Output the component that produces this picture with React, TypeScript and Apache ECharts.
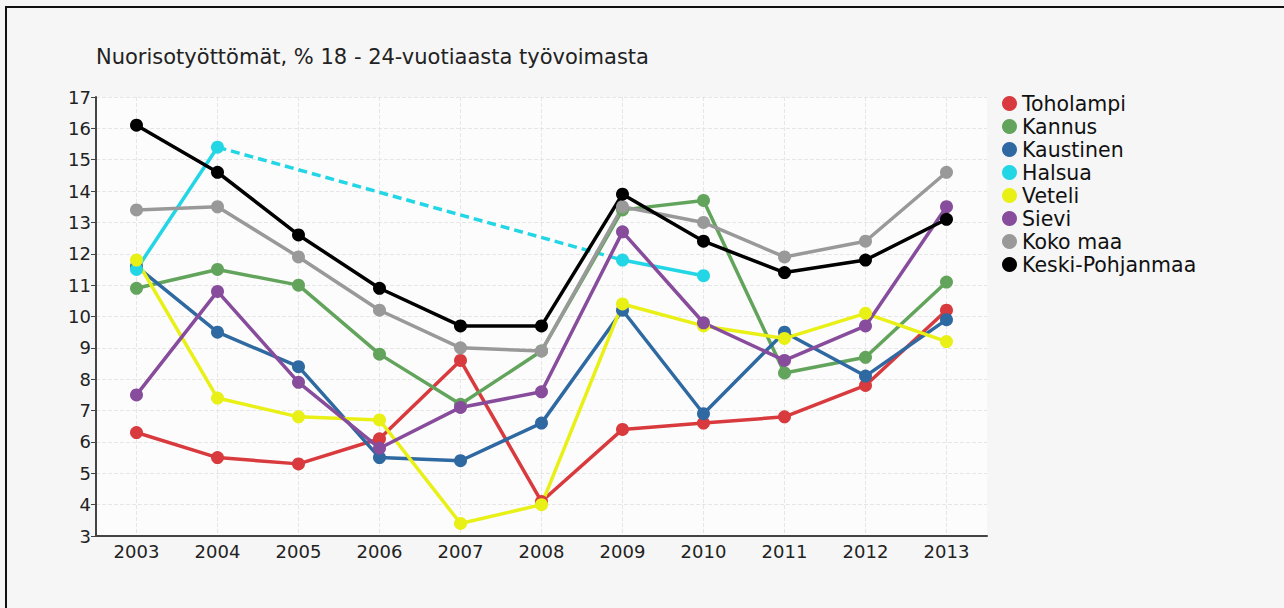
import React, { useEffect, useRef } from "react";
import * as echarts from "echarts";

const years = ["2003", "2004", "2005", "2006", "2007", "2008", "2009", "2010", "2011", "2012", "2013"];

const toholampi = [6.3, 5.5, 5.3, 6.1, 8.6, 4.1, 6.4, 6.6, 6.8, 7.8, 10.2];
const kannus = [10.9, 11.5, 11.0, 8.8, 7.2, 8.9, 13.4, 13.7, 8.2, 8.7, 11.1];
const kaustinen = [11.6, 9.5, 8.4, 5.5, 5.4, 6.6, 10.2, 6.9, 9.5, 8.1, 9.9];
const halsua = [11.5, 15.4, null, null, null, null, 11.8, 11.3, null, null, null];
const halsuaGap = [null, 15.4, null, null, null, null, 11.8, null, null, null, null];
const veteli = [11.8, 7.4, 6.8, 6.7, 3.4, 4.0, 10.4, 9.7, 9.3, 10.1, 9.2];
const sievi = [7.5, 10.8, 7.9, 5.8, 7.1, 7.6, 12.7, 9.8, 8.6, 9.7, 13.5];
const kokoMaa = [13.4, 13.5, 11.9, 10.2, 9.0, 8.9, 13.5, 13.0, 11.9, 12.4, 14.6];
const keskiPohjanmaa = [16.1, 14.6, 12.6, 10.9, 9.7, 9.7, 13.9, 12.4, 11.4, 11.8, 13.1];

const seriesDefs = [
  { name: "Toholampi", data: toholampi, color: "#d83a3e" },
  { name: "Kannus", data: kannus, color: "#62a45c" },
  { name: "Kaustinen", data: kaustinen, color: "#2f69a1" },
  { name: "Halsua", data: halsua, color: "#22d6e6" },
  { name: "Veteli", data: veteli, color: "#e8f016" },
  { name: "Sievi", data: sievi, color: "#874c9b" },
  { name: "Koko maa", data: kokoMaa, color: "#999999" },
  { name: "Keski-Pohjanmaa", data: keskiPohjanmaa, color: "#000000" },
];

const FONT = "DejaVu Sans";

export default function App() {
  const ref = useRef<HTMLDivElement>(null);
  useEffect(() => {
    if (!ref.current) return;
    const chart = echarts.init(ref.current, null, { renderer: "svg" });
    const series: any[] = [
      {
        name: "Halsua-gap",
        type: "line",
        data: halsuaGap,
        connectNulls: true,
        showSymbol: false,
        symbol: "none",
        lineStyle: { color: "#22d6e6", width: 3.5, type: [9, 5] },
        itemStyle: { color: "#22d6e6" },
        z: 1,
      },
    ];
    seriesDefs.forEach((s) => {
      series.push({
        name: s.name,
        type: "line",
        data: s.data,
        connectNulls: false,
        symbol: "circle",
        symbolSize: 13,
        showSymbol: true,
        lineStyle: { color: s.color, width: 3.5 },
        itemStyle: { color: s.color },
        z: 2,
      });
    });
    chart.setOption({
      animation: false,
      backgroundColor: "transparent",
      title: {
        text: "Nuorisotyöttömät, % 18 - 24-vuotiaasta työvoimasta",
        left: 91,
        top: 41,
        textStyle: { fontFamily: FONT, fontSize: 21, fontWeight: "normal", color: "#222" },
      },
      legend: {
        orient: "vertical",
        left: 997,
        top: 88,
        icon: "circle",
        itemWidth: 15,
        itemHeight: 15,
        itemGap: 2,
        data: seriesDefs.map((s) => s.name),
        textStyle: { fontFamily: FONT, fontSize: 20.5, color: "#111", lineHeight: 20 },
      },
      grid: {
        left: 96,
        right: 297,
        top: 97,
        bottom: 72,
        show: true,
        backgroundColor: "#fcfcfc",
        borderWidth: 0,
      },
      xAxis: {
        type: "category",
        data: years,
        boundaryGap: true,
        axisLine: { lineStyle: { color: "#444", width: 2 } },
        axisTick: { alignWithLabel: true, length: 5, lineStyle: { color: "#444" } },
        axisLabel: { fontFamily: FONT, fontSize: 18, color: "#222", margin: 6 },
        splitLine: { show: true, alignWithLabel: true, lineStyle: { color: "#e6e6e6", type: "dashed" } },
      } as any,
      yAxis: {
        type: "value",
        min: 3,
        max: 17,
        interval: 1,
        axisLine: { show: true, lineStyle: { color: "#444", width: 2 } },
        axisTick: { show: true, length: 5, lineStyle: { color: "#444" } },
        axisLabel: { fontFamily: FONT, fontSize: 18, color: "#222", margin: 5 },
        splitLine: { show: true, lineStyle: { color: "#e6e6e6", type: "dashed" } },
      },
      series,
    });
    return () => chart.dispose();
  }, []);
  return (
    <div style={{ position: "fixed", left: 0, top: 0, width: 1284, height: 608, background: "#f6f6f6" }}>
      <div
        style={{
          position: "absolute",
          left: 5,
          top: 6,
          right: 0,
          bottom: 0,
          borderTop: "2px solid #111",
          borderLeft: "2px solid #111",
          pointerEvents: "none",
        }}
      />
      <div ref={ref} style={{ position: "absolute", left: 0, top: 0, width: 1284, height: 608 }} />
    </div>
  );
}
